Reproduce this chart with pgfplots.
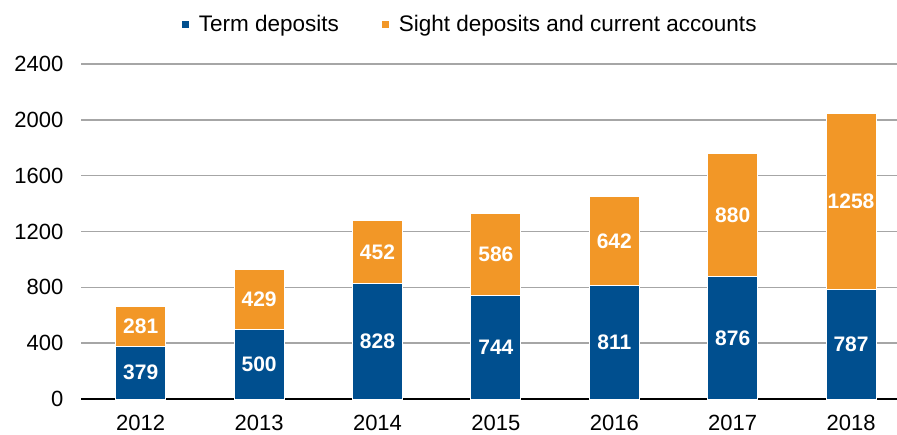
\documentclass[border=0pt]{standalone}
\usepackage{pgfplots}
\pgfplotsset{compat=1.18}
\usepackage{pgfplotstable}
\usepackage{fontspec}
\setmainfont{Liberation Sans}
\definecolor{tblue}{HTML}{004F8F}
\definecolor{torange}{HTML}{F29727}
\definecolor{gridgray}{HTML}{A6A6A6}
\pgfplotstableread{
x term sight
0 379 281
1 500 429
2 828 452
3 744 586
4 811 642
5 876 880
6 787 1258
}\data
\pgfplotstableread{
x y lab
0 189.5 379
0 519.5 281
1 250 500
1 714.5 429
2 414 828
2 1054 452
3 372 744
3 1037 586
4 405.5 811
4 1132 642
5 438 876
5 1316 880
6 393.5 787
6 1416 1258
}\labels
\newcommand\tickfont{\fontsize{22}{26}\selectfont}
\newcommand\legfont{\fontsize{22.5}{26}\selectfont}
\pgfplotsset{geom/.style={
  scale only axis, width=815.5pt, height=335pt,
  xmin=-0.5, xmax=6.388, ymin=0, ymax=2400,
  at={(0pt,0pt)}, anchor=south west}}
\begin{document}
\begin{tikzpicture}
\begin{axis}[geom,
  ybar stacked, bar width=50pt,
  axis lines*=left,
  y axis line style={draw=none},
  x axis line style={-, black, line width=1.3pt},
  ymajorgrids, grid style={gridgray, line width=1.4pt},
  major tick length=0pt,
  ytick={0,400,...,2400},
  xtick={0,...,6}, xticklabels={2012,2013,2014,2015,2016,2017,2018},
  tick label style={font=\tickfont},
  /pgf/number format/assume math mode=true,
  /pgf/number format/1000 sep={},
  yticklabel style={inner sep=0pt, xshift=-18pt},
  xticklabel style={inner sep=0pt, yshift=-16pt},
  legend style={at={(0.476,1.119)}, anchor=center, draw=none, fill=none,
    font=\legfont, legend columns=-1,
    /tikz/every even column/.append style={column sep=40pt}},
  legend image code/.code={\fill[#1] (0pt,-4pt) rectangle (8pt,4pt); \path (15pt,0pt);},
]
\addplot[fill=tblue, draw=white, line width=1pt] table[x=x, y=term] {\data};
\addplot[fill=torange, draw=white, line width=1pt] table[x=x, y=sight] {\data};
\legend{Term deposits, Sight deposits and current accounts}
\end{axis}
\begin{axis}[geom, hide axis]
\addplot[only marks, mark=*, mark size=0pt, mark options={draw=none, fill=none},
  point meta=explicit symbolic, nodes near coords,
  every node near coord/.append style={anchor=center, text=white,
    font=\fontsize{21}{24}\selectfont\bfseries}]
  table[x=x, y=y, meta=lab] {\labels};
\end{axis}
\pgfresetboundingbox
\path[use as bounding box] (-81.5pt,-35pt) rectangle (815.5pt,399pt);
\end{tikzpicture}
\end{document}
